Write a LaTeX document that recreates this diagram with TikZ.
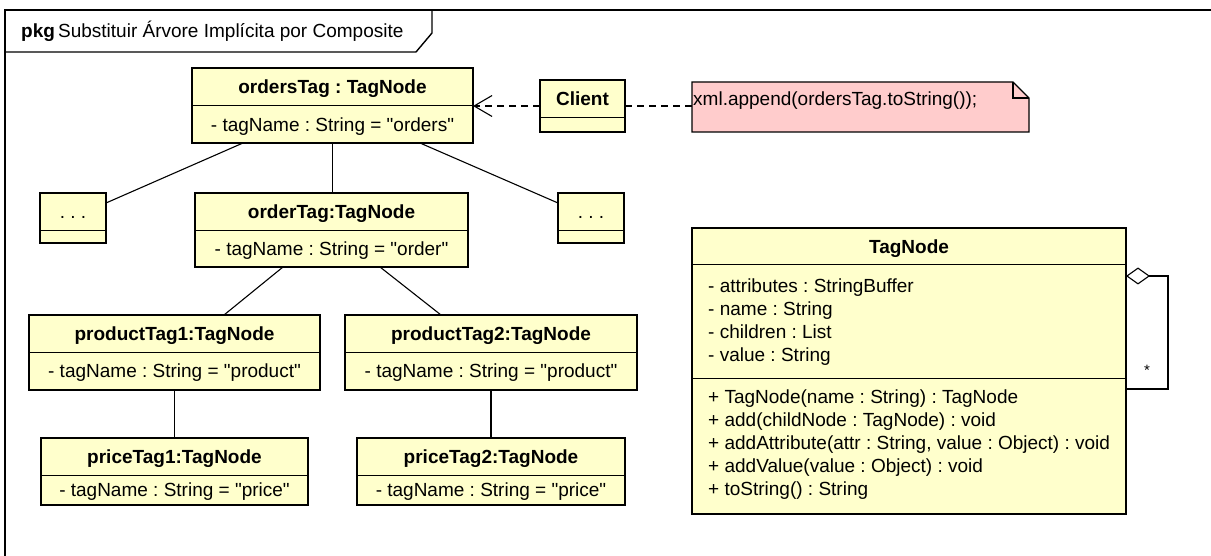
\documentclass[tikz,border=0pt]{standalone}
\usepackage{fontspec}
\setmainfont{Liberation Sans}[Ligatures=TeXOff]
\usetikzlibrary{arrows.meta,calc}
\definecolor{objfill}{RGB}{255,255,204}
\definecolor{notefill}{RGB}{255,204,204}
\frenchspacing
\tikzset{
  objbox/.style={draw, line width=2.6pt, fill=objfill, inner sep=0pt, outer sep=0pt},
  sepline/.style={line width=1pt},
  conn/.style={line width=1.1pt},
  dashconn/.style={conn, dash pattern=on 7pt off 5pt},
  boxtext/.style={inner sep=0pt, text height=13.5pt, text depth=0pt},
  listtext/.style={inner sep=0pt, align=left, anchor=north west},
}
\newcommand\umlobj[8]{%
  \node[objbox, anchor=north west, minimum width={#4-#2}, minimum height={#6-#3}] (#1) at (#2,#3) {};
  \draw[sepline] (#2,#5) -- (#4,#5);
  \node[boxtext] (#1-t) at ({(#2+#4)/2},{(#3+#5)/2}) {#7};
  \node[boxtext] (#1-a) at ({(#2+#4)/2},{(#5+#6)/2}) {#8};
}
\begin{document}
\begin{tikzpicture}[x=1pt,y=-1pt,font=\fontsize{19}{23}\selectfont\frenchspacing]
\useasboundingbox (0,0) rectangle (1211,556);
% frame
\draw[line width=1.4pt] (1211,10) -- (5,10) -- (5,556);
\draw[line width=1.4pt] (432,10) -- (432,33) -- (416,52) -- (5,52);
\node[boxtext, anchor=west] (hdr) at (21,31) {\textbf{pkg}\,Substituir Árvore Implícita por Composite};

% objects
\umlobj{ordersTag}{192}{68}{473}{106}{143}{\textbf{ordersTag : TagNode}}{- tagName : String = "orders"}
\umlobj{Client}{540}{80}{625}{118}{132}{\textbf{Client}}{}
\umlobj{dotsL}{40}{193}{106}{231}{243}{. . .}{}
\umlobj{dotsR}{558}{193}{624}{231}{243}{. . .}{}
\umlobj{orderTag}{195}{193}{468}{231}{267}{\textbf{orderTag:TagNode}}{- tagName : String = "order"}
\umlobj{productTagA}{29}{315}{320}{352}{390}{\textbf{productTag1:TagNode}}{- tagName : String = "product"}
\umlobj{productTagB}{345}{315}{637}{352}{390}{\textbf{productTag2:TagNode}}{- tagName : String = "product"}
\umlobj{priceTagA}{41}{438}{308}{475}{505}{\textbf{priceTag1:TagNode}}{- tagName : String = "price"}
\umlobj{priceTagB}{357}{438}{625}{475}{505}{\textbf{priceTag2:TagNode}}{- tagName : String = "price"}

% TagNode class
\node[objbox, anchor=north west, minimum width=434, minimum height=286] (TagNode) at (692,228) {};
\draw[sepline] (692,265) -- (1126,265);
\draw[sepline] (692,378) -- (1126,378);
\node[boxtext] (TagNode-t) at (909,246.5) {\textbf{TagNode}};
\node[listtext] (TagNode-attrs) at (708,278.5) {- attributes : StringBuffer\\- name : String\\- children : List\\- value : String};
\node[listtext] (TagNode-ops) at (708,389.5) {+ TagNode(name : String) : TagNode\\+ add(childNode : TagNode) : void\\+ addAttribute(attr : String, value : Object) : void\\+ addValue(value : Object) : void\\+ toString() : String};

% note
\node[minimum width=337, minimum height=50, inner sep=0pt, outer sep=0pt, anchor=north west] (note) at (692,82) {};
\draw[line width=1.3pt, fill=notefill] (note.north west) -- ($(note.north east)+(-16,0)$) -- ($(note.north east)+(0,16)$) -- (note.south east) -- (note.south west) -- cycle;
\draw[line width=1.3pt] ($(note.north east)+(-16,0)$) -- ($(note.north east)+(-16,16)$) -- ($(note.north east)+(0,16)$);
\node[boxtext, anchor=west] (note-t) at (693,99) {xml.append(ordersTag.toString());};

% connectors
\draw[conn] ($(ordersTag.south west)+(51,0)$) -- ($(dotsL.north east)+(0,10)$);
\draw[conn] (ordersTag.south) -- (orderTag.north -| ordersTag.south);
\draw[conn] ($(ordersTag.south west)+(228,0)$) -- ($(dotsR.north west)+(0,10)$);
\draw[conn] ($(orderTag.south west)+(88,0)$) -- ($(productTagA.north west)+(195,0)$);
\draw[conn] ($(orderTag.south west)+(185,0)$) -- ($(productTagB.north west)+(96,0)$);
\draw[conn] (productTagA.south) -- (priceTagA.north);
\draw[conn] (productTagB.south) -- (priceTagB.north);
\draw[dashconn, -{Straight Barb[length=18pt,width=21pt]}] (Client.west) -- (Client.west -| ordersTag.east);
\draw[dashconn] (Client.east) -- (Client.east -| note.west);
\draw[conn, {Diamond[fill=white,length=24pt,width=17pt]}-] ($(TagNode.north east)+(0,48)$) -- ++(42,0) -- ++(0,113) coordinate (aggC) -- ($(TagNode.north east)+(0,161)$);
\node[inner sep=0pt, font=\fontsize{15}{15}\selectfont] (mult) at (1147,370) {*};
\end{tikzpicture}
\end{document}
